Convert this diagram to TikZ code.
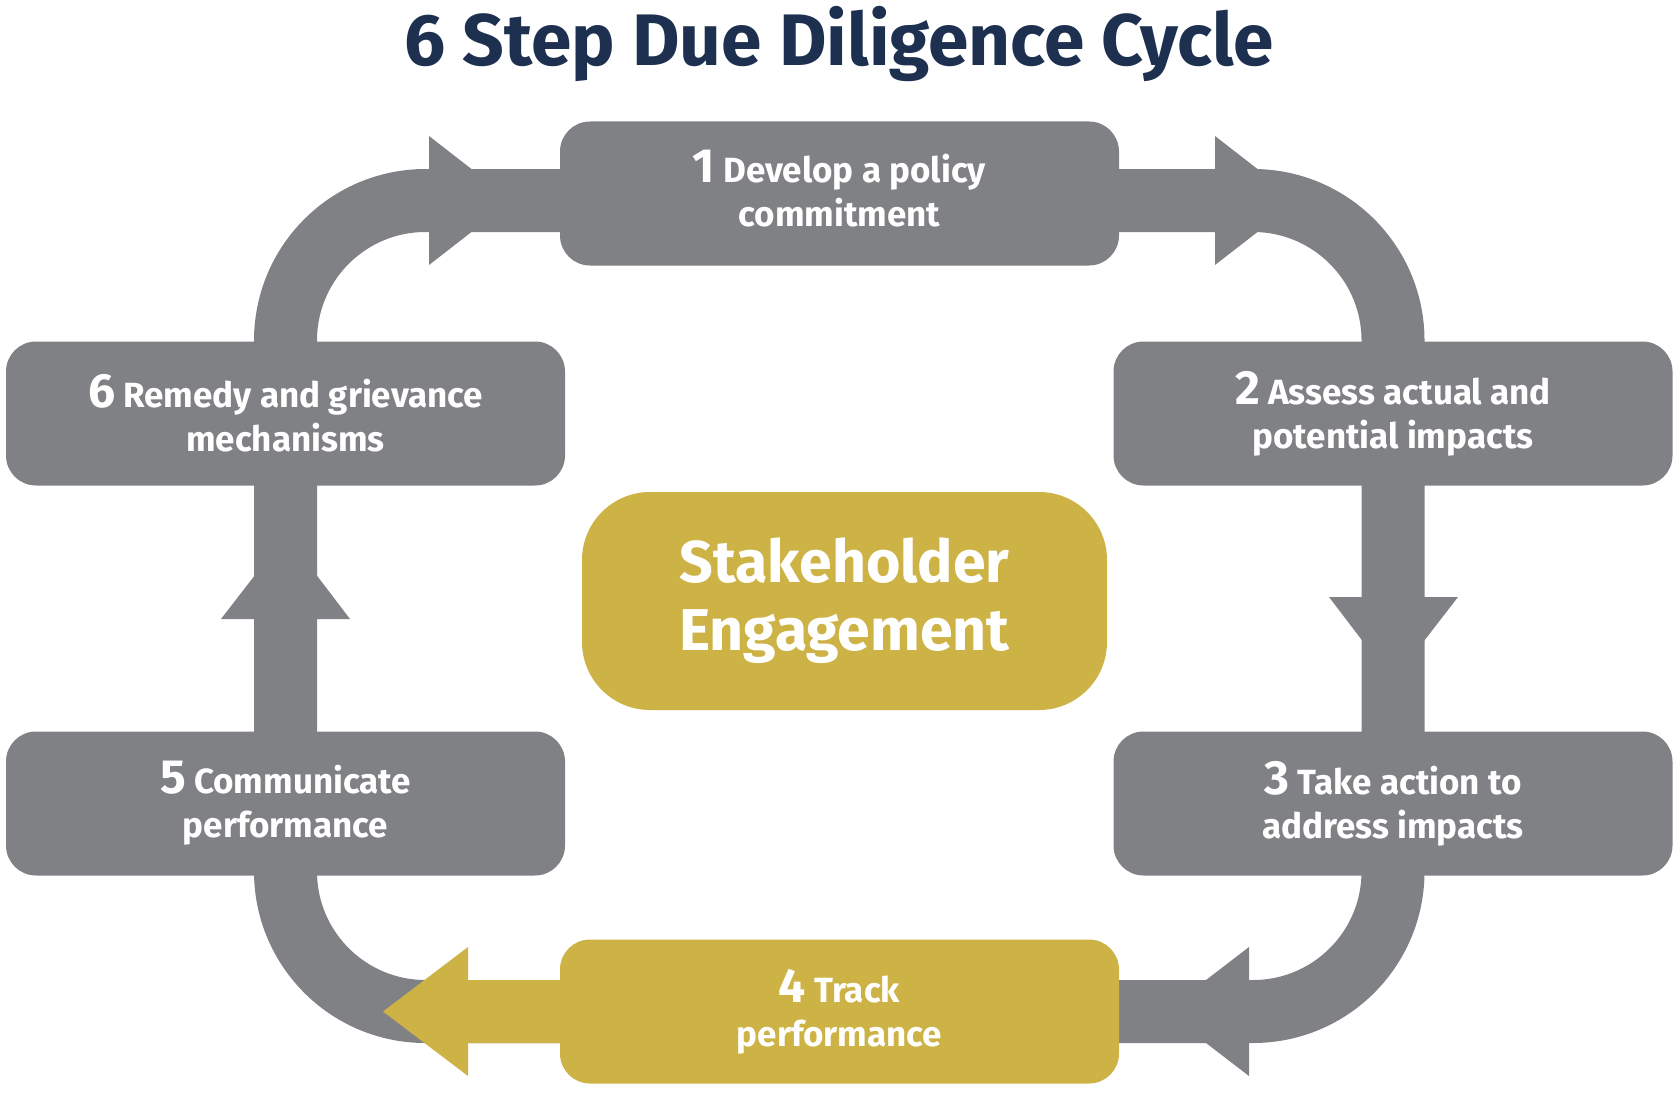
\documentclass[tikz,border=0pt]{standalone}
\usepackage{fontspec}
\setmainfont{Fira Sans}
\newfontfamily\stepfont{Fira Sans}
\newfontfamily\headfont{Fira Sans}

\usetikzlibrary{backgrounds}

\definecolor{stepgray}{HTML}{808184}
\definecolor{hubgold}{HTML}{CDB345}
\definecolor{titlenavy}{HTML}{1E3050}

\newcommand{\stepno}[1]{{\fontsize{48}{44}\selectfont #1}}

\begin{document}
\begin{tikzpicture}[x=1pt,y=-1pt,
    stepbox/.style={fill=stepgray,rounded corners=30pt,minimum width=559pt,minimum height=144pt,
      inner sep=0pt,text=white,align=center,font=\stepfont\bfseries\fontsize{35}{44}\selectfont},
    hubbox/.style={fill=hubgold,rounded corners=68pt,minimum width=525pt,minimum height=218pt,
      inner sep=0pt,text=white,align=center,font=\headfont\bfseries\fontsize{59}{68}\selectfont},
    band/.style={draw=stepgray,line width=63pt,rounded corners=140pt},
    headtri/.style={fill=stepgray}]
  \useasboundingbox (0,0) rectangle (1680,1097);

  \node[anchor=base,text=titlenavy,font=\headfont\bfseries\fontsize{73}{73}\selectfont] (title) at (839,66) {6 Step Due Diligence Cycle};

  \draw (839.5,193.5) node[stepbox] (s1) {\stepno{1} Develop a policy\\commitment\rule[-11pt]{0pt}{0pt}};
  \draw (1393,413.5) node[stepbox] (s2) {\stepno{2} Assess actual and\\potential impacts};
  \draw (1393,803.5) node[stepbox] (s3) {\stepno{3} Take action to\\address impacts};
  \draw (839.5,1011.5) node[stepbox,fill=hubgold] (s4) {\stepno{4} Track\\performance};
  \draw (285.5,803.5) node[stepbox] (s5) {\stepno{5} Communicate\\performance};
  \draw (285.5,413.5) node[stepbox] (s6) {\stepno{6} Remedy and grievance\\mechanisms};
  \draw (844.5,601) node[hubbox] (hub) {Stakeholder\\Engagement};

  \begin{scope}[on background layer]
    \draw[band] ([yshift=-7pt]s1.center) -| (s3.center |- s4.center) -- (s5.center |- s4.center) |- ([yshift=-7pt]s1.center);
    \fill[headtri] (429,136) -- (512,200.5) -- (429,265) -- cycle;
    \fill[headtri] (1215,136) -- (1298,200.5) -- (1215,265) -- cycle;
    \fill[headtri] (1329,597) -- (1393,681) -- (1458,597) -- cycle;
    \fill[headtri] (1249,947) -- (1165,1011.5) -- (1249,1076) -- cycle;
    \fill[headtri] (221,619) -- (286,535) -- (350,619) -- cycle;
    \fill[hubgold] (383,1011.5) -- (468,947) -- (468,980) -- (s4.center |- 0,980)
      -- (s4.center |- 0,1043) -- (468,1043) -- (468,1076) -- cycle;
  \end{scope}
\end{tikzpicture}
\end{document}
